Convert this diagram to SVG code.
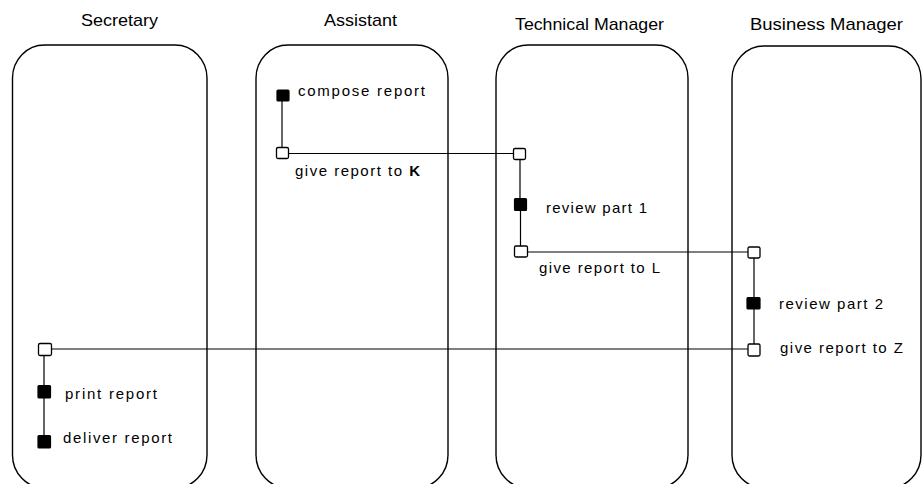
<svg xmlns="http://www.w3.org/2000/svg" width="923" height="484" viewBox="0 0 923 484">
<style>
.lane{fill:none;stroke:#000;stroke-width:1.4}
.title{font-family:"Liberation Sans",Arial,sans-serif;font-size:17px;fill:#000}
.lbl{font-family:"Liberation Sans",Arial,sans-serif;font-size:15px;fill:#000}
.act{fill:#000;stroke:#000;stroke-width:1.2}
.st{fill:#fff;stroke:#000;stroke-width:1.3}
.con{fill:none;stroke:#000;stroke-width:1.2}
</style>
<rect width="923" height="484" fill="#fff"/>
<g id="lanes">
<g id="lane-secretary">
<rect class="lane" x="12.5" y="45" width="194.5" height="443" rx="32" ry="33"/>
<text class="title" x="81" y="26" textLength="77" lengthAdjust="spacingAndGlyphs">Secretary</text>
</g>
<g id="lane-assistant">
<rect class="lane" x="256" y="45" width="192" height="443" rx="32" ry="33"/>
<text class="title" x="324" y="26" textLength="73" lengthAdjust="spacingAndGlyphs">Assistant</text>
</g>
<g id="lane-technical">
<rect class="lane" x="496" y="45" width="192" height="443" rx="32" ry="33"/>
<text class="title" x="515" y="30" textLength="149" lengthAdjust="spacingAndGlyphs">Technical Manager</text>
</g>
<g id="lane-business">
<rect class="lane" x="732" y="46" width="189" height="442" rx="32" ry="33"/>
<text class="title" x="750" y="30" textLength="153" lengthAdjust="spacingAndGlyphs">Business Manager</text>
</g>
</g>
<g id="connectors">
<path class="con" d="M282 101V147"/>
<path class="con" d="M289 153.5H513"/>
<path class="con" d="M520 160V198M520.5 211V246"/>
<path class="con" d="M528 252H748"/>
<path class="con" d="M754 258V297M754 309V344"/>
<path class="con" d="M748 349H52"/>
<path class="con" d="M44 356V385M44 398V435"/>
</g>
<g id="n-compose">
<rect class="act" x="277" y="90" width="12" height="11" rx="1"/>
<text class="lbl" x="298" y="96" textLength="127">compose report</text>
</g>
<g id="n-giveK">
<rect class="st" x="276.5" y="147.5" width="12" height="11" rx="1.5"/>
<text class="lbl" x="295" y="176" textLength="125">give report to <tspan font-weight="bold">K</tspan></text>
</g>
<g id="n-tm-recv">
<rect class="st" x="513.5" y="148.5" width="12" height="11" rx="1.5"/>
</g>
<g id="n-review1">
<rect class="act" x="514.5" y="198.5" width="12" height="12" rx="1"/>
<text class="lbl" x="546" y="213" textLength="101">review part 1</text>
</g>
<g id="n-giveL">
<rect class="st" x="514.5" y="246" width="13" height="11" rx="1.5"/>
<text class="lbl" x="539" y="273" textLength="121">give report to L</text>
</g>
<g id="n-bm-recv">
<rect class="st" x="748" y="247" width="12" height="11" rx="1.5"/>
</g>
<g id="n-review2">
<rect class="act" x="747" y="297.5" width="13" height="11.5" rx="1"/>
<text class="lbl" x="779" y="309" textLength="104">review part 2</text>
</g>
<g id="n-giveZ">
<rect class="st" x="748" y="344" width="12" height="12" rx="1.5"/>
<text class="lbl" x="780" y="353" textLength="123">give report to Z</text>
</g>
<g id="n-sec-recv">
<rect class="st" x="38.5" y="343.5" width="13" height="12" rx="1.5"/>
</g>
<g id="n-print">
<rect class="act" x="38" y="385.5" width="12.5" height="12.5" rx="1"/>
<text class="lbl" x="65" y="399" textLength="92">print report</text>
</g>
<g id="n-deliver">
<rect class="act" x="38" y="435.5" width="12.5" height="12.5" rx="1"/>
<text class="lbl" x="63" y="443" textLength="109">deliver report</text>
</g>
</svg>
